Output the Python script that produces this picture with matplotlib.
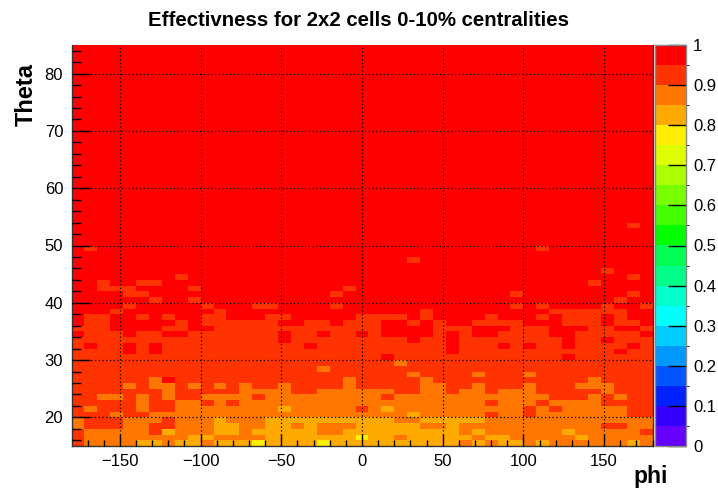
import numpy as np
import matplotlib
matplotlib.use("Agg")
import matplotlib.pyplot as plt
from matplotlib.colors import ListedColormap, BoundaryNorm

plt.rcParams['font.family'] = ['Liberation Sans', 'DejaVu Sans']

# phi / theta binning of the histogram (8 deg x 1 deg cells)
phi_edges = np.linspace(-180, 180, 46)
theta_edges = np.arange(15, 86)

# effectiveness class of every cell
# 0: 0.95-1, 1: 0.90-0.95, 2: 0.85-0.90, 3: 0.80-0.85, 4: 0.75-0.80
bin_value = [0.975, 0.925, 0.875, 0.825, 0.775]

# rows from theta=15 upwards, columns phi=-180..180
cell_bins = [
    "122223323323334" "333343333333333" "232332322222232",  # 15
    "122222222332222" "333333343323333" "323322222322222",  # 16
    "122222132223323" "333322333333333" "232222223222221",  # 17
    "211122112223322" "332322233333223" "222222222221122",  # 18
    "211122212223222" "333333333322333" "332222222222222",  # 19
    "111211222222222" "222222222223222" "221221222222211",  # 20
    "121112112222222" "232222212322222" "222221212222211",  # 21
    "111112112212122" "222222222222222" "221222122221111",  # 22
    "112212121122221" "222222222122222" "222222211121211",  # 23
    "111111121111122" "221122222211221" "221222111112111",  # 24
    "111121221212121" "121111211111221" "121112111222111",  # 25
    "111111201111111" "111111211111211" "111111111121111",  # 26
    "111111111111111" "111111111112111" "121112111111111",  # 27
    "111111111111111" "111121111111111" "111111111111111",  # 28
    "111111111111111" "111111111121111" "111111111111111",  # 29
    "111111111111111" "111111111011111" "111111110111111",  # 30
    "111101011111111" "111111111111110" "111111111111011",  # 31
    "101101011111111" "111011111111110" "111010110111101",  # 32
    "111111111111111" "101111111110110" "111111110110111",  # 33
    "011101100111111" "101101101000010" "100111100111110",  # 34
    "111000011001111" "111111111000011" "100011100011001",  # 35
    "011000001011111" "100110111001010" "011110001110110",  # 36
    "011001010011000" "110000011110100" "001000101110100",  # 37
    "000100000001000" "000000000000100" "000000011111100",  # 38
    "000010000010001" "100001000000000" "000010100001001",  # 39
    "000000100100000" "000000000000000" "000000000000100",  # 40
    "000011000000000" "000001000000000" "000010000000010",  # 41
    "001110000100000" "000000100000000" "000000000000000",  # 42
    "001001100000000" "000000000000000" "000000000010000",  # 43
    "000000001000000" "000000000000000" "000000000000010",  # 44
    "000000000000000" "000000000000000" "000000000001000",  # 45
    "000000000000000" "000000000000000" "000000000000000",  # 46
    "000000000000000" "000000000001000" "000000000000000",  # 47
    "000000000000000" "000000000000000" "000000000000000",  # 48
    "010000000000000" "000000000000000" "000000100000000",  # 49
    "000000000000000" "000000000000000" "000000000000000",  # 50
    "000000000000000" "000000000000000" "000000000000000",  # 51
    "000000000000000" "000000000000000" "000000000000000",  # 52
    "000000000000000" "000000000000000" "000000000000010",  # 53
]
# theta 54..84: every cell in the top class
cell_bins += ["0" * 45] * (len(theta_edges) - 1 - len(cell_bins))

eff = np.array([[bin_value[int(c)] for c in row] for row in cell_bins])

# ROOT-like 20 level palette
palette = ['#6600ff', '#3300ff', '#0022ff', '#0055ff', '#0099ff',
           '#00ccff', '#00ffff', '#00ffcc', '#00ff88', '#00ff55',
           '#00ff00', '#44ff00', '#77ff00', '#aaff00', '#ddff00',
           '#ffee00', '#ffaa00', '#ff7700', '#ff3300', '#ff0000']
levels = np.linspace(0, 1, 21)
cmap = ListedColormap(palette)
norm = BoundaryNorm(levels, cmap.N)

fig = plt.figure(figsize=(7.18, 4.88), dpi=100)
ax = fig.add_axes([71.5/718, 1-446/488, 581/718, 401/488])
mesh = ax.pcolormesh(phi_edges, theta_edges, eff, cmap=cmap, norm=norm)

ax.set_xlim(-180, 180)
ax.set_ylim(15, 85)
ax.set_xticks(np.arange(-150, 151, 50))
ax.set_xticks(np.arange(-170, 181, 10), minor=True)
ax.set_yticks(np.arange(20, 81, 10))
ax.set_yticks(np.arange(16, 85, 2), minor=True)
ax.tick_params(axis='x', which='major', direction='in', length=9, width=1, labelsize=12, pad=6)
ax.tick_params(axis='x', which='minor', direction='in', length=4.5, width=1)
ax.tick_params(axis='y', which='major', direction='in', length=13, width=1, labelsize=12, pad=6)
ax.tick_params(axis='y', which='minor', direction='in', length=6.5, width=1)
ax.grid(True, which='major', color='black', linestyle=(0, (1, 2)), linewidth=0.9)
ax.set_axisbelow(False)
ax.spines['top'].set_visible(False)
for side in ['left', 'bottom', 'right']:
    ax.spines[side].set_color('#333333')
    ax.spines[side].set_linewidth(1)

fig.text(0.5, 1-21/488, 'Effectivness for 2x2 cells 0-10% centralities',
         ha='center', va='center', fontsize=14.7, fontweight='bold')
fig.text(668/718, 1-477/488, 'phi', ha='right', va='center', fontsize=16.5, fontweight='bold')
fig.text(26/718, 1-95/488, 'Theta', ha='center', va='center', rotation=90,
         fontsize=17, fontweight='bold')

cax = fig.add_axes([655/718, 1-446/488, 31/718, 401/488])
cb = fig.colorbar(mesh, cax=cax, ticks=np.linspace(0, 1, 11))
cb.ax.set_yticklabels(['0', '0.1', '0.2', '0.3', '0.4', '0.5', '0.6', '0.7', '0.8', '0.9', '1'])
cb.ax.tick_params(direction='in', length=13, width=1, labelsize=12, pad=5)
cb.outline.set_edgecolor('#888888')
cb.outline.set_linewidth(1)

fig.savefig('out.png', dpi=100)
